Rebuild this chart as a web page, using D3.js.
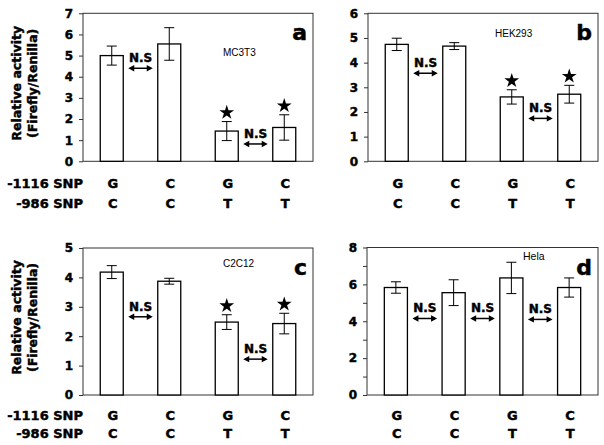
<!DOCTYPE html>
<html>
<head>
<meta charset="utf-8">
<script src="https://cdn.jsdelivr.net/npm/d3@7"></script>
<style>
body { margin: 0; background: #fff; }
text { font-family: "DejaVu Sans", sans-serif; font-weight: bold; fill: #000; }
text.heavy { stroke: #000; stroke-width: 0.45px; }
</style>
</head>
<body>
<svg id="chart" width="604" height="445"></svg>
<script>
// values
var panelLetters = ["a", "b", "c", "d"];
var cellLines = ["MC3T3", "HEK293", "C2C12", "Hela"];
var snp1116 = ["G", "C", "G", "C"];
var snp986 = ["C", "C", "T", "T"];
var yMax = [7, 6, 5, 8];
var yLabelStep = [1, 1, 1, 2];

var meansA = [5.0, 5.55, 1.43, 1.6];
var errA = [0.45, 0.77, 0.45, 0.6];
var meansB = [4.74, 4.67, 2.61, 2.72];
var errB = [0.25, 0.14, 0.29, 0.36];
var meansC = [4.18, 3.87, 2.48, 2.43];
var errC = [0.22, 0.1, 0.25, 0.35];
var meansD = [5.83, 5.55, 6.35, 5.83];
var errD = [0.31, 0.7, 0.85, 0.52];

var starsA = [2, 3], starsB = [2, 3], starsC = [2, 3], starsD = [];
// [left bar index, arrow height]
var nsA = [[0, 4.4], [2, 0.82]];
var nsB = [[0, 3.57], [2, 1.74]];
var nsC = [[0, 2.66], [2, 1.22]];
var nsD = [[0, 4.15], [1, 4.15], [2, 4.1]];

var allMeans = [meansA, meansB, meansC, meansD];
var allErr = [errA, errB, errC, errD];
var allStars = [starsA, starsB, starsC, starsD];
var allNs = [nsA, nsB, nsC, nsD];

// layout
var frames = [
    {x: 83, y: 13.3, w: 230, h: 148},
    {x: 368, y: 13.3, w: 230, h: 148},
    {x: 83, y: 248, w: 230, h: 147},
    {x: 367, y: 247.5, w: 231, h: 147.5}
];
var cellPos = [[140, 43, 10], [127, 24, 10], [140, 19, 10], [156, 12, 10.5]];
var rowY = [[188, 208], [188, 208], [420, 438], [420, 438]];

var svg = d3.select("#chart");

frames.forEach(function(f, p) {
    var x = d3.scaleBand().domain([0, 1, 2, 3])
        .range([f.x, f.x + f.w]).paddingInner(0.6).paddingOuter(0.3);
    var y = d3.scaleLinear().domain([0, yMax[p]]).range([f.y + f.h, f.y]);
    var bw = x.bandwidth();
    var g = svg.append("g");
    var means = allMeans[p], err = allErr[p];

    var step = yLabelStep[p];
    var ax = g.append("g")
        .attr("transform", "translate(" + f.x + ",0)")
        .call(d3.axisLeft(y).tickValues(d3.range(0, yMax[p] + 1, 1))
            .tickSize(4).tickPadding(6)
            .tickFormat(function(d) { return d % step === 0 ? d : ""; }));
    ax.select(".domain").remove();
    ax.selectAll("line").attr("stroke", "#333");
    ax.selectAll("text").attr("class", "heavy").style("font-size", "12px")
        .style("font-family", "DejaVu Sans").style("font-weight", "bold");

    g.append("rect")
        .attr("x", f.x).attr("y", f.y).attr("width", f.w).attr("height", f.h)
        .attr("fill", "none").attr("stroke", "#333").attr("stroke-width", 1);

    g.selectAll(".bar").data(means).enter().append("rect")
        .attr("class", "bar")
        .attr("x", function(d, i) { return x(i); })
        .attr("y", function(d) { return y(d); })
        .attr("width", bw)
        .attr("height", function(d) { return y(0) - y(d); })
        .attr("fill", "#fff").attr("stroke", "#000").attr("stroke-width", 1.3);

    // error bars
    means.forEach(function(m, i) {
        var cx = x(i) + bw / 2;
        g.append("line").attr("x1", cx).attr("x2", cx)
            .attr("y1", y(m + err[i])).attr("y2", y(m - err[i]))
            .attr("stroke", "#000").attr("stroke-width", 1);
        [m + err[i], m - err[i]].forEach(function(v) {
            g.append("line").attr("x1", cx - 5).attr("x2", cx + 5)
                .attr("y1", y(v)).attr("y2", y(v))
                .attr("stroke", "#000").attr("stroke-width", 1);
        });
    });

    // stars
    allStars[p].forEach(function(i) {
        g.append("path")
            .attr("d", d3.symbol(d3.symbolStar, 68)())
            .attr("transform", "translate(" + (x(i) + bw / 2) + "," + (y(means[i] + err[i]) - 9) + ")")
            .attr("fill", "#000");
    });

    // N.S arrows
    allNs[p].forEach(function(n) {
        var x1 = x(n[0]) + bw + 5, x2 = x(n[0] + 1) - 5, ay = y(n[1]);
        g.append("line").attr("x1", x1 + 2).attr("x2", x2 - 2)
            .attr("y1", ay).attr("y2", ay)
            .attr("stroke", "#000").attr("stroke-width", 1.5);
        g.append("path")
            .attr("d", "M" + x1 + "," + ay + "l6,-3.2v6.4z M" + x2 + "," + ay + "l-6,-3.2v6.4z")
            .attr("fill", "#000");
        g.append("text").attr("class", "heavy")
            .attr("x", (x1 + x2) / 2).attr("y", ay - 6)
            .attr("text-anchor", "middle").style("font-size", "12px")
            .text("N.S");
    });

    g.append("text")
        .attr("x", f.x + cellPos[p][0]).attr("y", f.y + cellPos[p][1])
        .style("font-family", "Liberation Sans, Arial, sans-serif")
        .style("font-weight", "normal").style("font-size", cellPos[p][2] + "px")
        .text(cellLines[p]);

    g.append("text").attr("class", "heavy")
        .attr("x", f.w + f.x - 6).attr("y", f.y + 27)
        .attr("text-anchor", "end").style("font-size", "22px")
        .text(panelLetters[p]);

    // genotype rows
    [snp1116, snp986].forEach(function(row, r) {
        g.selectAll(".geno" + r).data(row).enter().append("text")
            .attr("class", "heavy")
            .attr("x", function(d, i) { return x(i) + bw / 2 + 1; })
            .attr("y", rowY[p][r])
            .attr("text-anchor", "middle").style("font-size", "13px")
            .text(function(d) { return d; });
    });
    if (p % 2 === 0) {
        ["-1116 SNP", "-986 SNP"].forEach(function(t, r) {
            g.append("text").attr("class", "heavy").attr("x", f.x).attr("y", rowY[p][r])
                .attr("text-anchor", "end").style("font-size", "13px").text(t);
        });
        var cy = f.y + f.h / 2 - 4;
        g.append("text").attr("class", "heavy")
            .attr("transform", "translate(21," + cy + ") rotate(-90)")
            .attr("text-anchor", "middle").style("font-size", "12.5px")
            .text("Relative activity");
        g.append("text").attr("class", "heavy")
            .attr("transform", "translate(37," + cy + ") rotate(-90)")
            .attr("text-anchor", "middle").style("font-size", "12.5px")
            .text("(Firefly/Renilla)");
    }
});
</script>
</body>
</html>
